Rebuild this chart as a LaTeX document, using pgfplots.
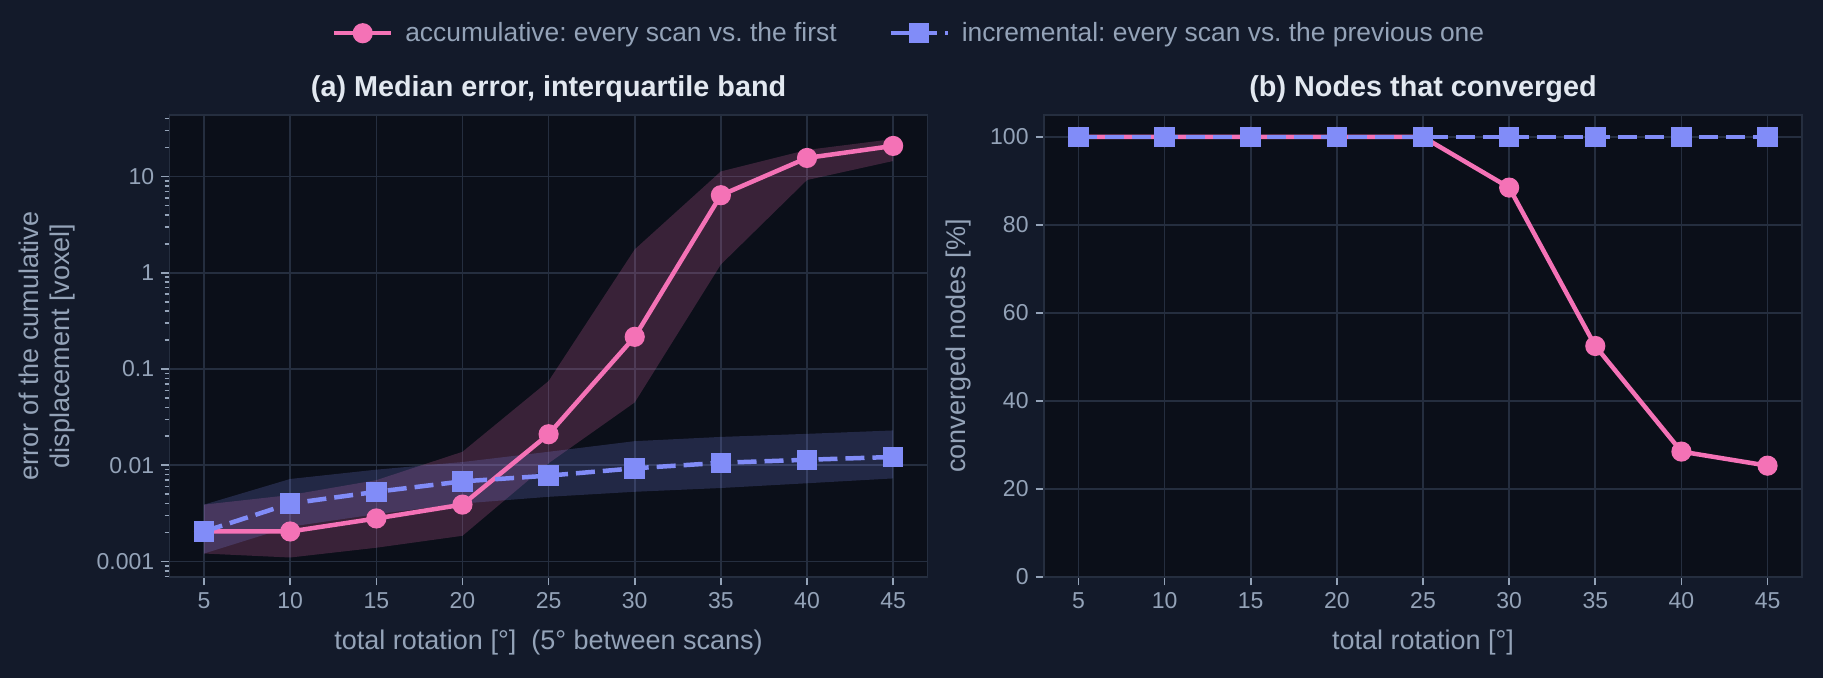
\documentclass[border=0pt]{standalone}
\usepackage{fontspec}
\setmainfont{Liberation Sans}
\usepackage{pgfplots}
\pgfplotsset{compat=1.18}
\frenchspacing

\definecolor{figbg}{HTML}{131A2A}
\definecolor{axbg}{HTML}{0B0F19}
\definecolor{gridc}{HTML}{252E3F}
\definecolor{txt}{HTML}{94A3B8}
\definecolor{ttl}{HTML}{E2E8F0}
\definecolor{accum}{HTML}{F472B6}
\definecolor{incr}{HTML}{818CF8}

\pgfplotsset{
  darkax/.style={
    scale only axis, width=379pt, height=231pt,
    axis background/.style={fill=axbg},
    axis line style={gridc, line width=0.8pt},
    grid=major, major grid style={gridc, line width=0.8pt},
    tick align=outside, xtick pos=bottom, ytick pos=left,
    major tick length=4.2pt, minor tick length=2.5pt,
    tick style={txt, line width=0.8pt},
    tick label style={font=\fontsize{11.5}{13}\selectfont, text=txt},
    /pgf/number format/assume math mode=true,
    label style={font=\fontsize{13.5}{15.5}\selectfont, text=txt},
    title style={font=\fontsize{14.4}{16}\selectfont\bfseries, text=ttl,
      at={(0.5,1)}, anchor=base, yshift=3.2pt},
    xmin=3, xmax=47, xtick={5,10,...,45},
    xlabel style={at={(axis description cs:0.5,0)}, anchor=center, yshift=-33pt},
    accline/.style={accum, line width=2.25pt, mark=*, mark size=3.9pt,
      mark options={solid, fill=accum, draw=accum}},
    incline/.style={incr, line width=2.25pt, dash pattern=on 9.5pt off 4pt,
      mark=square*, mark size=4pt, mark options={solid, fill=incr, draw=incr}},
  },
}

\begin{document}
\begin{tikzpicture}
\useasboundingbox (0,0) rectangle (911.5pt,339pt);
\fill[figbg] (0,0) rectangle (911.5pt,339pt);

% (a) log error with interquartile bands
\begin{axis}[darkax,
  at={(84.8pt,50.5pt)}, anchor=south west,
  ymode=log, ymin=0.00069, ymax=43.6,
  ytick={0.001,0.01,0.1,1,10},
  yticklabels={0.001,0.01,0.1,1,10},
  minor ytick={0.0007,0.0008,0.0009,
    0.002,0.003,0.004,0.005,0.006,0.007,0.008,0.009,
    0.02,0.03,0.04,0.05,0.06,0.07,0.08,0.09,
    0.2,0.3,0.4,0.5,0.6,0.7,0.8,0.9,
    2,3,4,5,6,7,8,9,20,30,40},
  title={(a) Median error, interquartile band},
  xlabel={total rotation [°]\ \ (5° between scans)},
  ylabel={error of the cumulative\\displacement [voxel]},
  ylabel style={align=center, at={(axis description cs:-0.162,0.5)}, anchor=center},
  legend columns=2,
  legend style={at={(0.977,1.177)}, anchor=center, draw=none, fill=none,
    font=\fontsize{13.2}{15}\selectfont, text=txt,
    /tikz/every odd column/.append style={column sep=4pt},
    /tikz/every even column/.append style={column sep=24pt}},
  legend image code/.code={\draw[mark repeat=2, mark phase=2, #1]
    plot coordinates {(0pt,0pt) (14.15pt,0pt) (28.3pt,0pt)};},
]
\addplot[draw=none, fill=accum, fill opacity=0.2, forget plot] coordinates {
  (5,0.0039) (10,0.0049) (15,0.0070) (20,0.0138) (25,0.075)
  (30,1.75) (35,11.3) (40,18.9) (45,24.5)
  (45,14.5) (40,9.2) (35,1.22) (30,0.045) (25,0.0105)
  (20,0.00185) (15,0.00139) (10,0.0011) (5,0.00121)};
\addplot[draw=none, fill=incr, fill opacity=0.2, forget plot] coordinates {
  (5,0.0039) (10,0.0072) (15,0.0090) (20,0.0108) (25,0.0138)
  (30,0.0178) (35,0.0197) (40,0.0212) (45,0.0230)
  (45,0.0073) (40,0.0065) (35,0.0058) (30,0.0053) (25,0.0047)
  (20,0.0040) (15,0.0031) (10,0.0023) (5,0.00121)};
\addplot[accline] coordinates {
  (5,0.00205) (10,0.00205) (15,0.0028) (20,0.0039) (25,0.021)
  (30,0.216) (35,6.4) (40,15.6) (45,20.8)};
\addlegendentry{accumulative: every scan vs. the first}
\addplot[incline] coordinates {
  (5,0.00205) (10,0.0040) (15,0.0053) (20,0.0068) (25,0.0078)
  (30,0.0093) (35,0.0106) (40,0.0114) (45,0.0122)};
\addlegendentry{incremental: every scan vs. the previous one}
\end{axis}

% (b) share of converged nodes
\begin{axis}[darkax,
  at={(522pt,50.5pt)}, anchor=south west,
  ymin=0, ymax=105, ytick={0,20,...,100},
  title={(b) Nodes that converged},
  xlabel={total rotation [°]},
  ylabel={converged nodes [\%]},
  ylabel style={at={(axis description cs:-0.113,0.5)}, anchor=center},
]
\addplot[accline] coordinates {
  (5,100) (10,100) (15,100) (20,100) (25,100)
  (30,88.5) (35,52.5) (40,28.5) (45,25.3)};
\addplot[incline] coordinates {
  (5,100) (10,100) (15,100) (20,100) (25,100)
  (30,100) (35,100) (40,100) (45,100)};
\end{axis}
\end{tikzpicture}
\end{document}
